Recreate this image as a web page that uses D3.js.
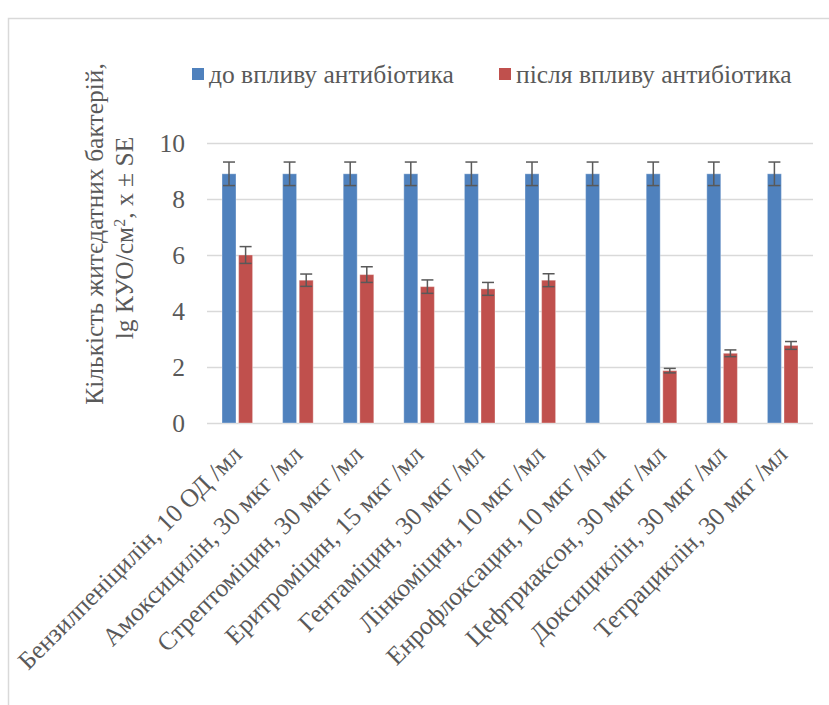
<!DOCTYPE html>
<html>
<head>
<meta charset="utf-8">
<script src="https://cdn.jsdelivr.net/npm/d3@7/dist/d3.min.js"></script>
<style>
  html, body { margin: 0; padding: 0; background: #fff; }
</style>
</head>
<body>
<svg id="chart" width="829" height="705" font-family="Liberation Serif"></svg>
<script>
// Antibiotics tested (disc concentrations)
const categories = [
  "Бензилпеніцилін, 10 ОД /мл",
  "Амоксицилін, 30 мкг /мл",
  "Стрептоміцин, 30 мкг /мл",
  "Еритроміцин, 15 мкг /мл",
  "Гентаміцин, 30 мкг /мл",
  "Лінкоміцин, 10 мкг /мл",
  "Енрофлоксацин, 10 мкг /мл",
  "Цефтриаксон, 30 мкг /мл",
  "Доксициклін, 30 мкг /мл",
  "Тетрациклін, 30 мкг /мл"
];
const seriesNames = ["до впливу антибіотика", "після впливу антибіотика"];
// lg CFU/cm² before and after exposure, with standard errors
const beforeValues = [8.9, 8.9, 8.9, 8.9, 8.9, 8.9, 8.9, 8.9, 8.9, 8.9];
const beforeSE     = [0.42, 0.42, 0.42, 0.42, 0.42, 0.42, 0.42, 0.42, 0.42, 0.42];
const afterValues  = [6.0, 5.1, 5.3, 4.87, 4.79, 5.1, 0, 1.87, 2.49, 2.77];
const afterSE      = [0.3, 0.22, 0.28, 0.24, 0.23, 0.23, 0, 0.08, 0.12, 0.14];
const yTicks = [0, 2, 4, 6, 8, 10];
const colors = ["#4F81BD", "#C0504D"];

const FONT = "Liberation Serif";
const TEXT = "#595959";
const FS = 25.5;

const svg = d3.select("#chart");

// outer chart frame
svg.append("rect")
  .attr("x", 8.5).attr("y", 18.5)
  .attr("width", 840).attr("height", 700)
  .attr("fill", "none").attr("stroke", "#d9d9d9").attr("stroke-width", 1.5);

const plot = { left: 207, right: 813, top: 143, bottom: 423 };

const x = d3.scaleBand().domain(categories).range([plot.left, plot.right]);
const y = d3.scaleLinear().domain([0, 10]).range([plot.bottom, plot.top]);

const barW = 14, barGap = 2.6;

// horizontal gridlines
svg.append("g").selectAll("line").data(yTicks).join("line")
  .attr("x1", plot.left).attr("x2", plot.right)
  .attr("y1", d => Math.round(y(d)) + 0.5).attr("y2", d => Math.round(y(d)) + 0.5)
  .attr("stroke", "#d9d9d9").attr("stroke-width", 1.3);

// y axis labels
const yAxis = d3.axisLeft(y).tickValues(yTicks).tickSize(0).tickPadding(0);
const gy = svg.append("g").attr("transform", `translate(${plot.left - 22},0)`).call(yAxis)
  .attr("font-family", FONT).attr("font-size", FS);
gy.select(".domain").remove();
gy.selectAll("text").attr("fill", TEXT).attr("dy", "0.35em");

const series = [
  { values: beforeValues, se: beforeSE, offset: -(barW + barGap / 2), color: colors[0] },
  { values: afterValues,  se: afterSE,  offset: barGap / 2,           color: colors[1] }
];

series.forEach(s => {
  const g = svg.append("g");
  const data = categories.map((c, i) => ({ c, v: s.values[i], e: s.se[i] }));
  g.selectAll("rect").data(data.filter(d => d.v > 0)).join("rect")
    .attr("x", d => x(d.c) + x.bandwidth() / 2 + s.offset)
    .attr("y", d => y(d.v))
    .attr("width", barW)
    .attr("height", d => y(0) - y(d.v))
    .attr("fill", s.color)
    .attr("stroke", "rgba(255,255,255,0.35)").attr("stroke-width", 1);

  // error bars
  const eb = g.selectAll("g.err").data(data.filter(d => d.v > 0 && d.e > 0)).join("g").attr("class", "err");
  const cx = d => x(d.c) + x.bandwidth() / 2 + s.offset + barW / 2;
  eb.append("line")
    .attr("x1", cx).attr("x2", cx)
    .attr("y1", d => y(d.v + d.e)).attr("y2", d => y(d.v - d.e))
    .attr("stroke", "#595959").attr("stroke-width", 1.5);
  [1, -1].forEach(sg => {
    eb.append("line")
      .attr("x1", d => cx(d) - 6).attr("x2", d => cx(d) + 6)
      .attr("y1", d => y(d.v + sg * d.e)).attr("y2", d => y(d.v + sg * d.e))
      .attr("stroke", "#595959").attr("stroke-width", 1.5);
  });
});

// category labels rotated 45°
svg.append("g").selectAll("text").data(categories).join("text")
  .attr("transform", d => `translate(${x(d) + x.bandwidth() / 2 + 6},${plot.bottom + 33}) rotate(-45)`)
  .attr("text-anchor", "end")
  .attr("font-family", FONT)
  .attr("font-size", FS)
  .attr("fill", TEXT)
  .text(d => d);

// y axis title
const title = svg.append("text")
  .attr("transform", "rotate(-90)")
  .attr("text-anchor", "middle")
  .attr("font-family", FONT)
  .attr("font-size", FS)
  .attr("fill", TEXT);
title.append("tspan").attr("x", -234).attr("y", 103).text("Кількість житєдатних бактерій,");
title.append("tspan").attr("x", -238).attr("y", 133).text("lg КУО/см");
title.append("tspan").attr("baseline-shift", "super").attr("font-size", 16).text("2");
title.append("tspan").text(", x ± SE");

// legend
const legend = svg.append("g").attr("font-family", FONT).attr("font-size", FS).attr("fill", TEXT);
const legendItems = [
  { name: seriesNames[0], color: colors[0], x: 192 },
  { name: seriesNames[1], color: colors[1], x: 499 }
];
legendItems.forEach(it => {
  legend.append("rect").attr("x", it.x).attr("y", 68).attr("width", 12).attr("height", 12).attr("fill", it.color);
  legend.append("text").attr("x", it.x + 17).attr("y", 83).text(it.name);
});
</script>
</body>
</html>
